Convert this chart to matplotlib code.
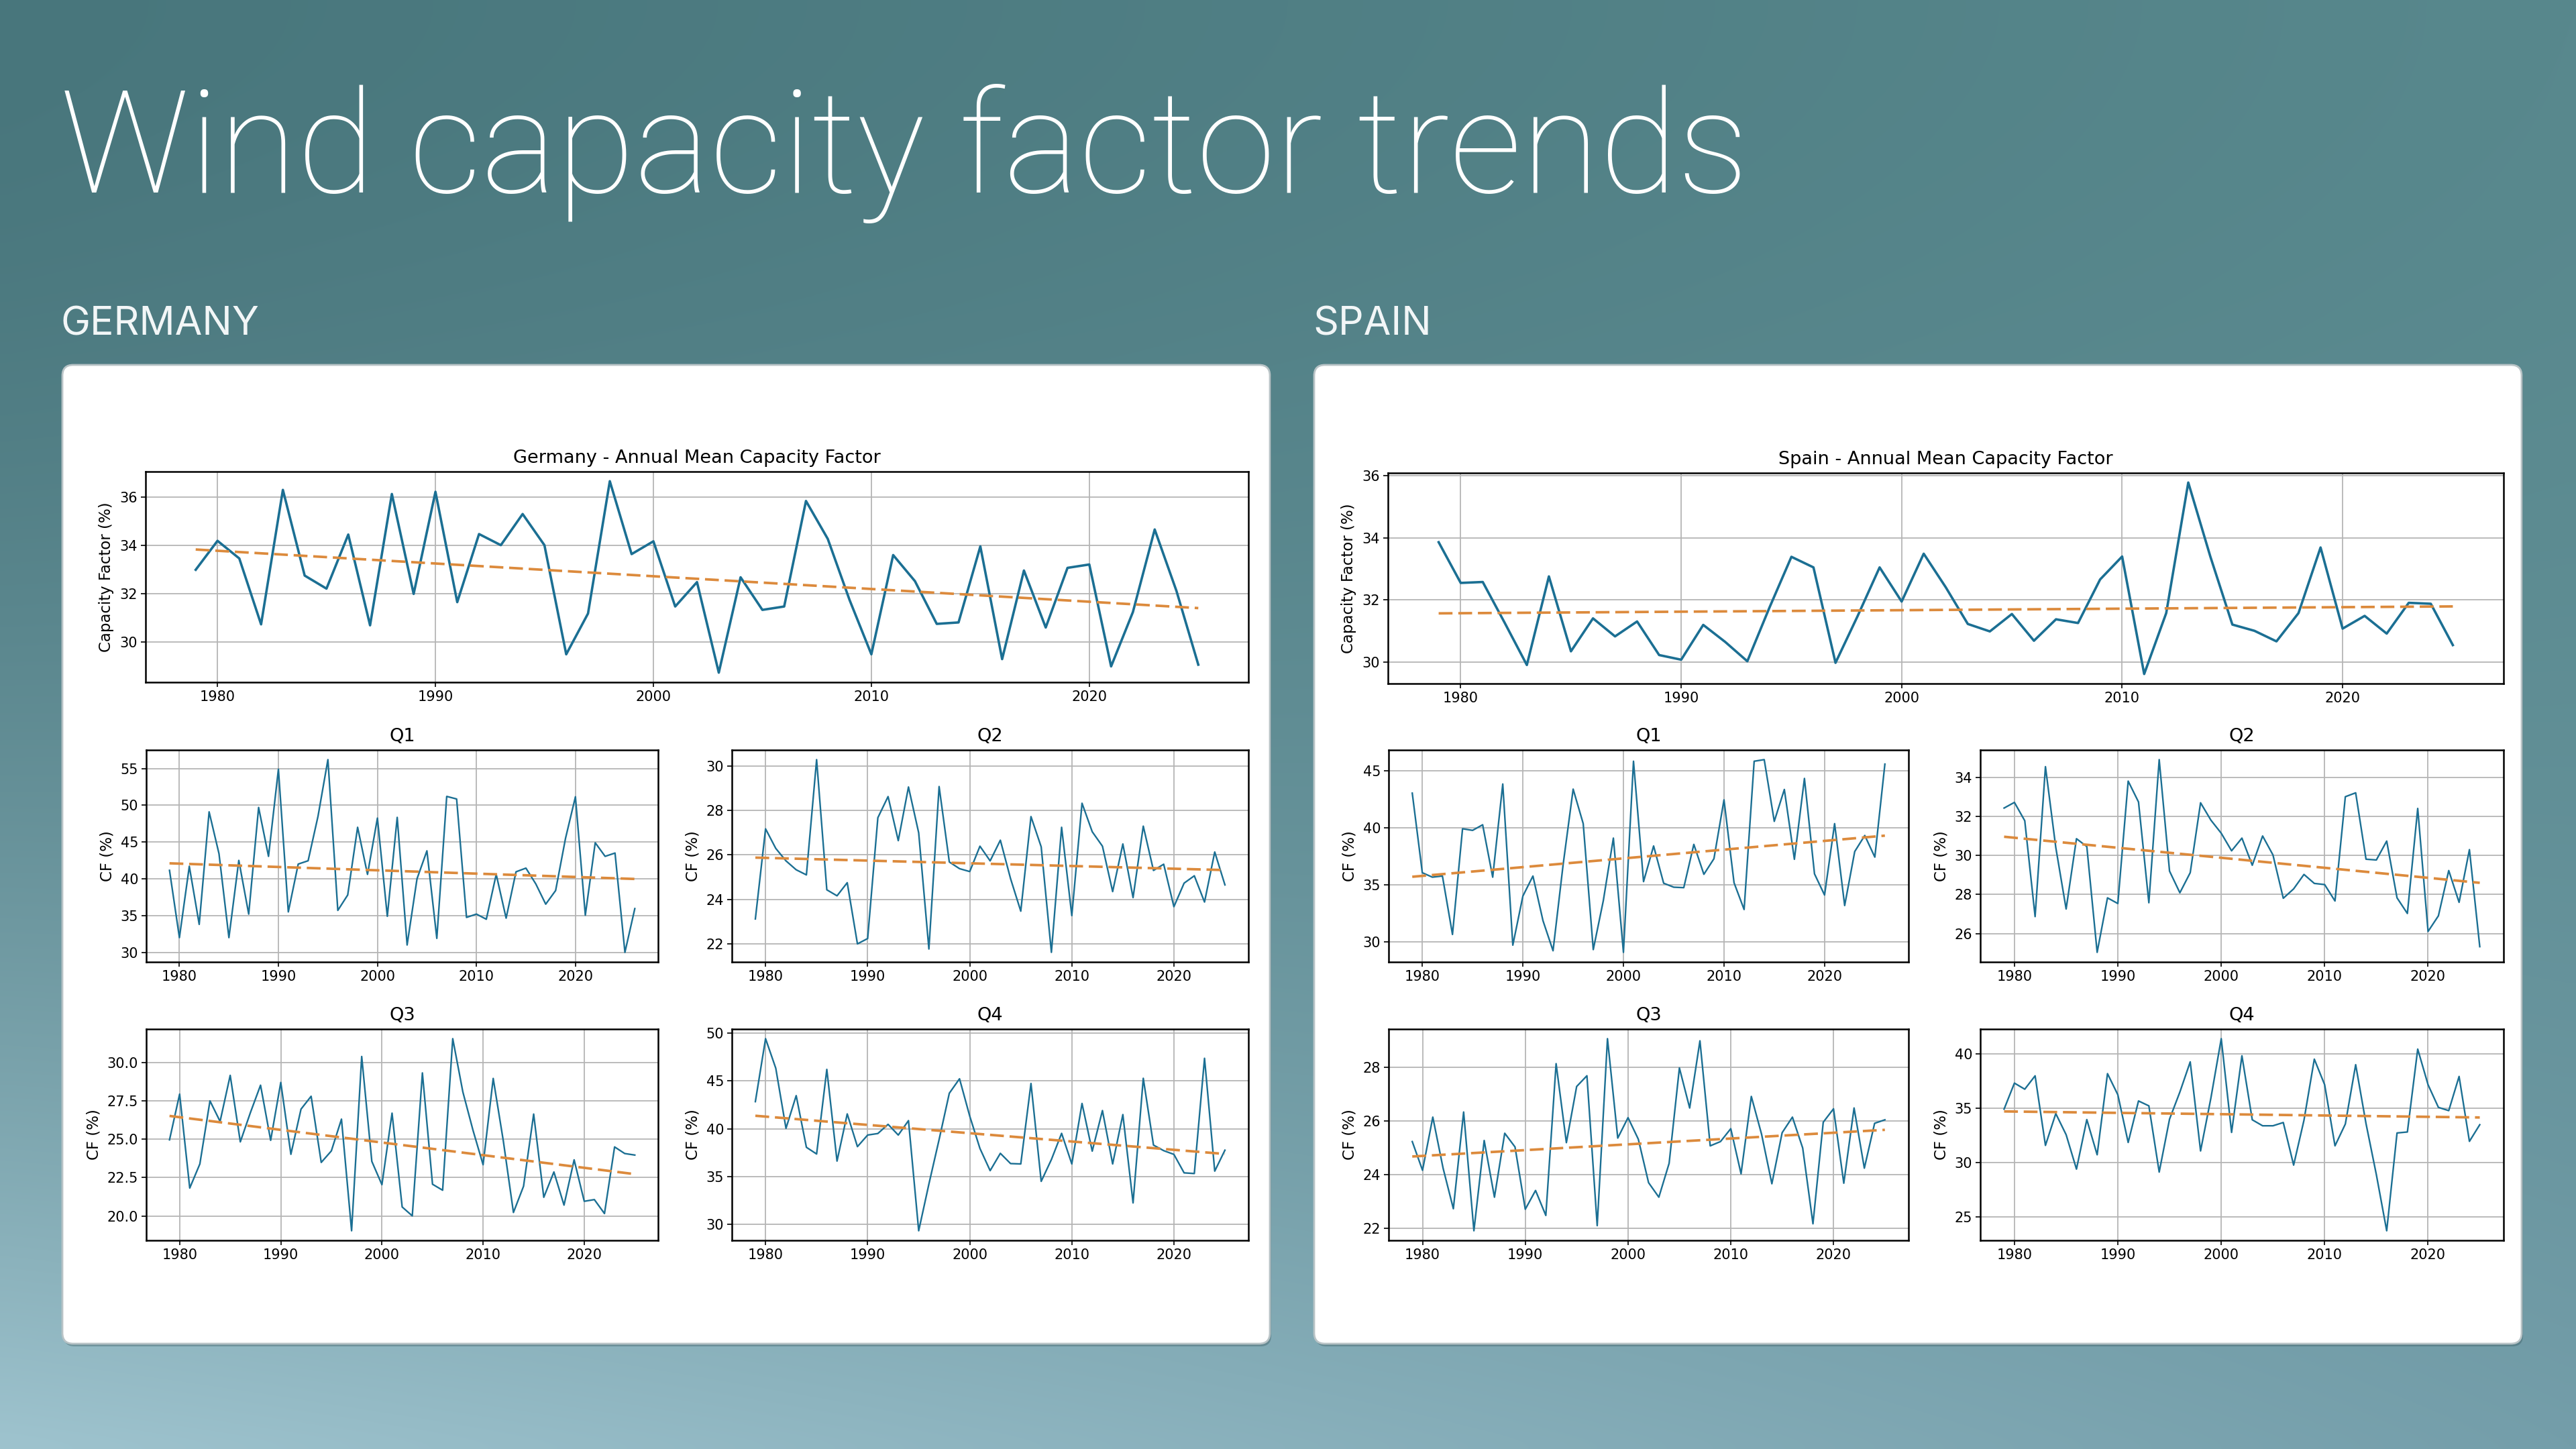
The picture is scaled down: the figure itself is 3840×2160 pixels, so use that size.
import numpy as np
import matplotlib
matplotlib.use("Agg")
import matplotlib.pyplot as plt
from matplotlib.patches import FancyBboxPatch
from matplotlib.ticker import MaxNLocator, MultipleLocator

# ---------------- data ----------------
YEARS = list(range(1979, 2026))
YEARS_Q1 = list(range(1979, 2027))

de_annual = [33.0, 34.2, 33.47, 30.74, 36.31, 32.76, 32.22, 34.46, 30.70, 36.14, 32.0, 36.23,
             31.66, 34.48, 34.02, 35.31, 34.02, 29.50, 31.19, 36.67, 33.65, 34.18,
             31.48, 32.49, 28.74, 32.69, 31.34, 31.48, 35.85, 34.28, 31.75, 29.50,
             33.61, 32.53, 30.76, 30.82, 33.97, 29.30, 32.97, 30.61, 33.08, 33.22,
             29.0, 31.25, 34.67, 32.12, 29.07]
de_q1 = [41.15, 32.0, 41.7, 33.8, 49.1, 43.4, 32.0, 42.5, 35.2, 49.7, 43.05, 54.9,
         35.5, 42.0, 42.45, 48.5, 56.2, 35.7, 37.8, 47.0, 40.6, 48.25,
         34.9, 48.35, 31.0, 40.0, 43.8, 31.9, 51.2, 50.85, 34.75, 35.2,
         34.5, 40.6, 34.65, 40.95, 41.45, 39.3, 36.55, 38.4, 45.5, 51.15,
         35.05, 44.9, 43.05, 43.5, 30.0, 35.95]
de_q2 = [23.12, 27.17, 26.29, 25.73, 25.33, 25.1, 30.28, 24.43, 24.16, 24.75, 22.0, 22.24,
         27.67, 28.62, 26.64, 29.05, 26.99, 21.77, 29.07, 25.68, 25.38, 25.25,
         26.39, 25.73, 26.66, 24.93, 23.47, 27.72, 26.36, 21.62, 27.24, 23.27,
         28.32, 27.04, 26.39, 24.35, 26.49, 24.08, 27.29, 25.3, 25.58, 23.67,
         24.73, 25.06, 23.88, 26.13, 24.65]
de_q3 = [24.96, 27.94, 21.82, 23.39, 27.5, 26.16, 29.16, 24.83, 26.74, 28.52, 24.93, 28.7,
         24.02, 26.96, 27.8, 23.49, 24.24, 26.31, 19.04, 30.39, 23.56, 22.04,
         26.7, 20.59, 20.01, 29.32, 22.07, 21.68, 31.55, 28.08, 25.59, 23.34,
         28.96, 24.89, 20.23, 21.94, 26.64, 21.22, 22.87, 20.71, 23.66, 20.96,
         21.07, 20.16, 24.5, 24.07, 23.97]
de_q4 = [42.84, 49.42, 46.33, 40.05, 43.47, 38.07, 37.37, 46.21, 36.63, 41.56, 38.14, 39.35,
         39.51, 40.47, 39.35, 40.86, 29.35, 34.23, 38.88, 43.72, 45.23, 41.33,
         37.95, 35.63, 37.44, 36.37, 36.33, 44.74, 34.51, 36.79, 39.53, 36.33,
         42.65, 37.67, 41.91, 36.33, 41.49, 32.26, 45.28, 38.3, 37.72, 37.33,
         35.4, 35.33, 47.37, 35.58, 37.77]

es_annual = [33.86, 32.55, 32.58, 31.26, 29.91, 32.76, 30.35, 31.41, 30.83, 31.31, 30.23, 30.08,
             31.2, 30.65, 30.03, 31.75, 33.39, 33.05, 29.98, 31.48, 33.05, 31.95,
             33.49, 32.41, 31.23, 30.99, 31.55, 30.69, 31.38, 31.26, 32.66, 33.4,
             29.62, 31.58, 35.78, 33.4, 31.21, 31.01, 30.67, 31.58, 33.69, 31.08,
             31.49, 30.92, 31.91, 31.88, 30.55]
es_q1 = [43.04, 36.05, 35.66, 35.76, 30.63, 39.91, 39.77, 40.26, 35.66, 43.84, 29.69, 34.0,
         35.76, 31.84, 29.2, 36.74, 43.39, 40.36, 29.3, 33.6, 39.09, 29.06,
         45.84, 35.27, 38.4, 35.13, 34.78, 34.74, 38.54, 35.91, 37.28, 42.45,
         35.17, 32.82, 45.84, 45.98, 40.56, 43.36, 37.23, 44.33, 35.95, 34.09,
         40.36, 33.17, 37.91, 39.32, 37.42, 45.59]
es_q2 = [32.43, 32.72, 31.78, 26.87, 34.55, 30.41, 27.26, 30.86, 30.46, 25.04, 27.83, 27.54,
         33.81, 32.74, 27.58, 34.91, 29.2, 28.09, 29.12, 32.7, 31.81, 31.14,
         30.24, 30.89, 29.5, 31.0, 30.03, 27.81, 28.29, 29.03, 28.57, 28.51,
         27.67, 33.01, 33.21, 29.81, 29.77, 30.74, 27.83, 27.03, 32.41, 26.11,
         26.91, 29.23, 27.6, 30.3, 25.33]
es_q3 = [25.24, 24.17, 26.15, 24.25, 22.74, 26.34, 21.92, 25.28, 23.17, 25.55, 25.04, 22.72,
         23.42, 22.49, 28.14, 25.2, 27.29, 27.69, 22.11, 29.07, 25.37, 26.13,
         25.33, 23.71, 23.17, 24.43, 27.98, 26.49, 28.99, 25.08, 25.24, 25.72,
         24.04, 26.92, 25.51, 23.67, 25.57, 26.15, 25.0, 22.18, 25.96, 26.46,
         23.69, 26.49, 24.25, 25.92, 26.05]
es_q4 = [34.9, 37.29, 36.73, 37.96, 31.57, 34.49, 32.55, 29.39, 33.94, 30.71, 38.16, 36.22,
         31.84, 35.65, 35.2, 29.12, 33.98, 36.47, 39.24, 31.06, 35.92, 41.37,
         32.76, 39.8, 33.92, 33.37, 33.37, 33.67, 29.76, 33.88, 39.49, 37.14,
         31.53, 33.53, 38.98, 33.57, 28.88, 23.73, 32.71, 32.8, 40.41, 37.14,
         35.06, 34.76, 37.9, 31.94, 33.47]

SLIDE_TITLE = "Wind capacity factor trends"
COUNTRIES = ["GERMANY", "SPAIN"]
ANNUAL_TITLES = ["Germany - Annual Mean Capacity Factor", "Spain - Annual Mean Capacity Factor"]
Q_TITLES = ["Q1", "Q2", "Q3", "Q4"]
ANNUAL_YLABEL = "Capacity Factor (%)"
Q_YLABEL = "CF (%)"

# ---------------- style ----------------
W, H = 3840, 2160
LINE = "#1b6f93"
TREND = "#dc8a3c"
TICK_FS = 15
LABEL_FS = 16.5
TITLE_FS = 19.5

fig = plt.figure(figsize=(38.4, 21.6), dpi=100)

# background
bg = fig.add_axes([0, 0, 1, 1])
bg.set_xlim(0, W)
bg.set_ylim(H, 0)
bg.axis("off")
ny, nx = 108, 192
yy = np.linspace(0, 1, ny)[:, None, None]
xx = np.linspace(0, 1, nx)[None, :, None]
TL = np.array([72, 118, 124]) / 255
TR = np.array([88, 136, 141]) / 255
BL = np.array([158, 195, 206]) / 255
BR = np.array([116, 158, 170]) / 255
t = yy ** 1.8
top = TL * (1 - xx) + TR * xx
bot = BL * (1 - xx) + BR * xx
grad = top * (1 - t) + bot * t
bg.imshow(np.clip(grad, 0, 1), extent=[0, W, H, 0], aspect="auto",
          interpolation="bicubic", zorder=0)

bg.text(90, 287, SLIDE_TITLE, fontsize=153, color="white", family=["Roboto", "DejaVu Sans"],
        weight="light", va="baseline", ha="left", zorder=3)
for x0, name in zip([91, 1957], COUNTRIES):
    bg.text(x0, 500, name, fontsize=42.5, color="#f2f6f7", family=["Inter", "DejaVu Sans"],
            va="baseline", ha="left", zorder=3)

# panels
for px in [93, 1959]:
    sh = FancyBboxPatch((px + 2, 548), 1800, 1459, boxstyle="round,pad=0,rounding_size=16",
                        facecolor="#2f4f55", edgecolor="none", alpha=0.35, zorder=1)
    bg.add_patch(sh)
    pn = FancyBboxPatch((px, 544), 1800, 1459, boxstyle="round,pad=0,rounding_size=16",
                        facecolor="white", edgecolor="#b8c3c6", linewidth=2, zorder=2)
    bg.add_patch(pn)


def add_ax(l, r, t_, b):
    return fig.add_axes([l / W, 1 - b / H, (r - l) / W, (b - t_) / H])


def style(ax, title, ylabel):
    ax.set_title(title, fontsize=TITLE_FS, pad=9)
    ax.set_ylabel(ylabel, fontsize=LABEL_FS, labelpad=6)
    ax.grid(True, color="#b5b5b5", linewidth=1.3)
    ax.set_axisbelow(True)
    ax.tick_params(labelsize=TICK_FS, length=5, width=1.2)
    for s in ax.spines.values():
        s.set_linewidth(1.8)
    ax.xaxis.set_major_locator(MultipleLocator(10))
    ax.yaxis.set_major_locator(MaxNLocator(nbins=6, steps=[1, 2, 2.5, 5, 10]))


def draw(ax, years, vals, lw):
    ax.plot(years, vals, color=LINE, linewidth=lw, zorder=3)
    k, c = np.polyfit(years, vals, 1)
    tr = np.polyval([k, c], years)
    ax.plot(years, tr, color=TREND, linewidth=2.7, linestyle=(0, (5.5, 2.3)), zorder=4)


boxes = {
    "de": dict(annual=(217, 1861, 703, 1017),
               q=[(218, 981, 1118, 1434), (1091, 1861, 1118, 1434),
                  (218, 981, 1534, 1849), (1091, 1861, 1534, 1849)]),
    "es": dict(annual=(2069, 3732, 705, 1019),
               q=[(2070, 2845, 1118, 1434), (2952, 3732, 1118, 1434),
                  (2070, 2845, 1534, 1849), (2952, 3732, 1534, 1849)]),
}
series = {
    "de": (de_annual, [de_q1, de_q2, de_q3, de_q4]),
    "es": (es_annual, [es_q1, es_q2, es_q3, es_q4]),
}

for i, key in enumerate(["de", "es"]):
    ann, qs = series[key]
    ax = add_ax(*boxes[key]["annual"])
    draw(ax, YEARS, ann, 2.6)
    style(ax, ANNUAL_TITLES[i], ANNUAL_YLABEL)
    for j in range(4):
        ax = add_ax(*boxes[key]["q"][j])
        yrs = YEARS_Q1 if j == 0 else YEARS
        draw(ax, yrs, qs[j], 1.7)
        style(ax, Q_TITLES[j], Q_YLABEL)

fig.savefig("out.png", dpi=100)
